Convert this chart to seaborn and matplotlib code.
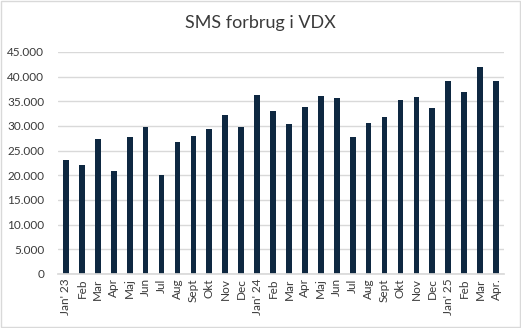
import matplotlib
matplotlib.use("Agg")
import matplotlib.pyplot as plt
import seaborn as sns
import pandas as pd
from matplotlib.ticker import FuncFormatter, MultipleLocator
from matplotlib.patches import Rectangle

months = ["Jan' 23", "Feb", "Mar", "Apr", "Maj", "Jun", "Jul", "Aug", "Sept", "Okt", "Nov", "Dec",
          "Jan' 24", "Feb", "Mar", "Apr", "Maj", "Jun", "Jul", "Aug", "Sept", "Okt", "Nov", "Dec",
          "Jan' 25", "Feb", "Mar", "Apr."]
values = [23100, 22000, 27400, 20850, 27700, 29750, 20000, 26750, 27950, 29450, 32250, 29850,
          36250, 33100, 30400, 33800, 36100, 35700, 27700, 30700, 31900, 35300, 35950, 33650,
          39100, 36800, 42000, 39100]
title = "SMS forbrug i VDX"

sns.set_theme(style="white")
plt.rcParams['font.family'] = ['Lato', 'DejaVu Sans']
text_color = "#3a3a3a"
bar_color = "#0E2841"

df = pd.DataFrame({"key": [f"{i}" for i in range(len(months))], "value": values})

fig = plt.figure(figsize=(5.21, 3.28), dpi=100)
ax = fig.add_axes([58/521, 1-274/328, (504-58)/521, (274-52)/328])
sns.barplot(data=df, x="key", y="value", color=bar_color, width=0.36, ax=ax,
            saturation=1, edgecolor=bar_color, linewidth=0)
ax.set_xlim(-0.5, len(months)-0.5)
ax.set_ylim(0, 45000)
ax.yaxis.set_major_locator(MultipleLocator(5000))
ax.yaxis.set_major_formatter(FuncFormatter(lambda v, p: f"{int(v):,}".replace(",", ".")))
ax.set_xticks(range(len(months)))
ax.set_xticklabels(months, rotation=90, fontsize=8.5, color=text_color)
ax.tick_params(axis='y', labelsize=8.5, labelcolor=text_color, length=0, pad=10)
ax.tick_params(axis='x', length=0, pad=3)
ax.grid(axis='y', color="#D9D9D9", linewidth=1)
ax.set_axisbelow(True)
for s in ["top", "right", "left"]:
    ax.spines[s].set_visible(False)
ax.spines["bottom"].set_color("#D9D9D9")
ax.set_xlabel("")
ax.set_ylabel("")
fig.text(0.5, 1-23/328, title, ha="center", va="center", fontsize=13, color=text_color)
fig.patches.append(Rectangle((0.002, 0.003), 0.996, 0.994, transform=fig.transFigure,
                             fill=False, edgecolor="#D9D9D9", linewidth=1))
fig.savefig("out.png", dpi=100)
